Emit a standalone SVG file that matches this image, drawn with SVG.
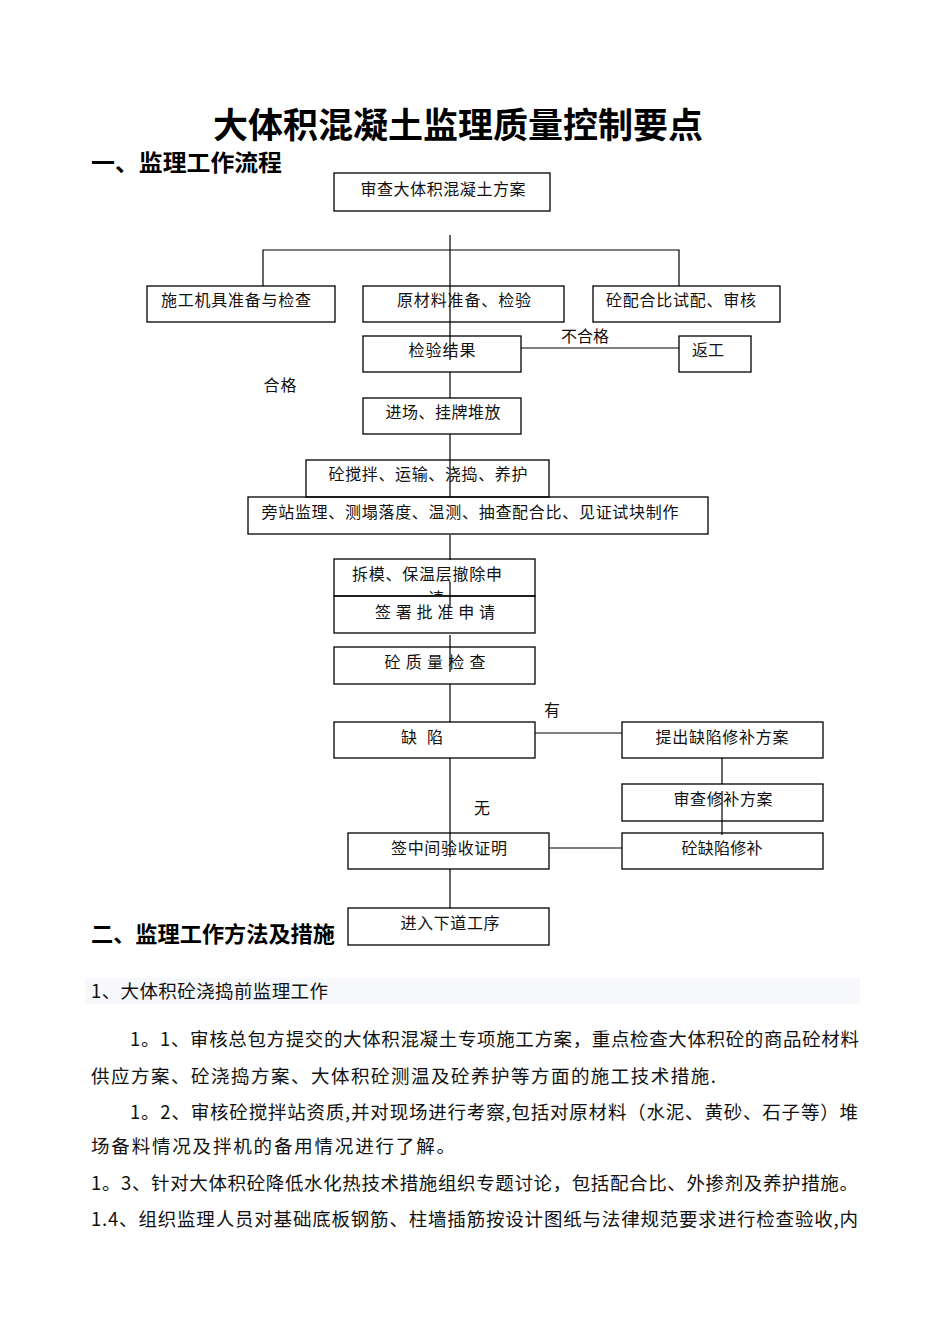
<svg xmlns="http://www.w3.org/2000/svg" width="950" height="1344" viewBox="0 0 950 1344">
<style>
.box{fill:none;stroke:#000;stroke-width:1.3}
.ln{fill:none;stroke:#000;stroke-width:1.2}
.t{font-family:"Noto Sans CJK SC","Liberation Sans",sans-serif;font-size:16px;fill:#111;text-anchor:middle}
.h{font-family:"Noto Sans CJK SC","Liberation Sans",sans-serif;font-weight:bold;fill:#000}
.p{font-family:"Noto Sans CJK SC","Liberation Sans",sans-serif;font-size:18.5px;fill:#111}
</style>
<defs>
<clipPath id="cpChai"><rect x="334" y="588" width="201" height="8"/></clipPath>
</defs>
<rect width="950" height="1344" fill="#fff"/>
<text class="h" x="458" y="138" font-size="35" text-anchor="middle" textLength="490" lengthAdjust="spacingAndGlyphs">大体积混凝土监理质量控制要点</text>
<text class="h" x="91" y="171" font-size="23" textLength="191" lengthAdjust="spacingAndGlyphs">一、监理工作流程</text>

<g id="connectors">
<path class="ln" d="M450 235V360M450 372V398M450 434V497M450 535V560M450 582V608M450 635V672M450 684V722M450 758V857M450 869V908"/>
<path class="ln" d="M263 286V250H679V286"/>
<path class="ln" d="M521 348H679"/>
<path class="ln" d="M535 733H622"/>
<path class="ln" d="M722 758V784M722 791V835"/>
<path class="ln" d="M549 848H622"/>
</g>

<g id="n1"><rect class="box" x="334" y="173" width="216" height="38"/><text class="t" x="443" y="195" textLength="165">审查大体积混凝土方案</text></g>
<g id="n2"><rect class="box" x="147" y="286" width="188" height="36"/><text class="t" x="236" y="306" textLength="150">施工机具准备与检查</text></g>
<g id="n3"><rect class="box" x="363" y="286" width="201" height="36"/><text class="t" x="464" y="306" textLength="134">原材料准备、检验</text></g>
<g id="n4"><rect class="box" x="593" y="286" width="187" height="36"/><text class="t" x="681" y="306" textLength="150">砼配合比试配、审核</text></g>
<g id="n5"><rect class="box" x="363" y="336" width="158" height="36"/><text class="t" x="442" y="356" textLength="67">检验结果</text></g>
<g id="n6"><rect class="box" x="679" y="336" width="72" height="36"/><text class="t" x="708" y="356" textLength="32">返工</text></g>
<g id="l1"><text class="t" x="585" y="342" textLength="48">不合格</text></g>
<g id="l2"><text class="t" x="280" y="391" textLength="33">合格</text></g>
<g id="n7"><rect class="box" x="363" y="398" width="158" height="36"/><text class="t" x="443" y="418" textLength="115">进场、挂牌堆放</text></g>
<g id="n8"><rect class="box" x="306" y="460" width="243" height="37"/><text class="t" x="428" y="480" textLength="199">砼搅拌、运输、浇捣、养护</text></g>
<g id="n9"><rect class="box" x="248" y="497" width="460" height="37"/><text class="t" x="470" y="518" textLength="417">旁站监理、测塌落度、温测、抽查配合比、见证试块制作</text></g>
<g id="n10"><rect class="box" x="334" y="559" width="201" height="37"/><text class="t" x="427" y="580" textLength="150">拆模、保温层撤除申</text><text class="t" x="436" y="604" font-size="15" clip-path="url(#cpChai)">请</text></g>
<g id="n11"><rect class="box" x="334" y="596" width="201" height="37"/><text class="t" x="435" y="618" textLength="120">签 署 批 准 申 请</text></g>
<g id="n12"><rect class="box" x="334" y="647" width="201" height="37"/><text class="t" x="435" y="668" textLength="101">砼 质 量 检 查</text></g>
<g id="l3"><text class="t" x="552" y="716">有</text></g>
<g id="n13"><rect class="box" x="334" y="722" width="201" height="36"/><text class="t" x="422" y="743" textLength="42">缺 陷</text></g>
<g id="n14"><rect class="box" x="622" y="722" width="201" height="36"/><text class="t" x="722" y="743" textLength="133">提出缺陷修补方案</text></g>
<g id="n15"><rect class="box" x="622" y="784" width="201" height="37"/><text class="t" x="723" y="805" textLength="99">审查修补方案</text></g>
<g id="l4"><text class="t" x="482" y="814">无</text></g>
<g id="n16"><rect class="box" x="348" y="833" width="201" height="36"/><text class="t" x="449" y="854" textLength="116">签中间验收证明</text></g>
<g id="n17"><rect class="box" x="622" y="833" width="201" height="36"/><text class="t" x="722" y="854" textLength="81">砼缺陷修补</text></g>
<g id="n18"><rect class="box" x="348" y="908" width="201" height="37"/><text class="t" x="450" y="929" textLength="99">进入下道工序</text></g>

<text class="h" x="91" y="942" font-size="22" textLength="244" lengthAdjust="spacingAndGlyphs">二、监理工作方法及措施</text>

<rect x="85" y="978" width="775" height="26" fill="#f6f8fc"/>
<text class="p" x="91" y="998" font-size="16" textLength="237">1、大体积砼浇捣前监理工作</text>
<text class="p" x="130" y="1046" textLength="729">1。1、审核总包方提交的大体积混凝土专项施工方案，重点检查大体积砼的商品砼材料</text>
<text class="p" x="91" y="1083" textLength="625">供应方案、砼浇捣方案、大体积砼测温及砼养护等方面的施工技术措施.</text>
<text class="p" x="130" y="1119" textLength="728">1。2、审核砼搅拌站资质,并对现场进行考察,包括对原材料（水泥、黄砂、石子等）堆</text>
<text class="p" x="91" y="1153" textLength="364">场备料情况及拌机的备用情况进行了解。</text>
<text class="p" x="91" y="1190" textLength="767">1。3、针对大体积砼降低水化热技术措施组织专题讨论，包括配合比、外掺剂及养护措施。</text>
<text class="p" x="91" y="1226" textLength="767">1.4、组织监理人员对基础底板钢筋、柱墙插筋按设计图纸与法律规范要求进行检查验收,内</text>
</svg>
